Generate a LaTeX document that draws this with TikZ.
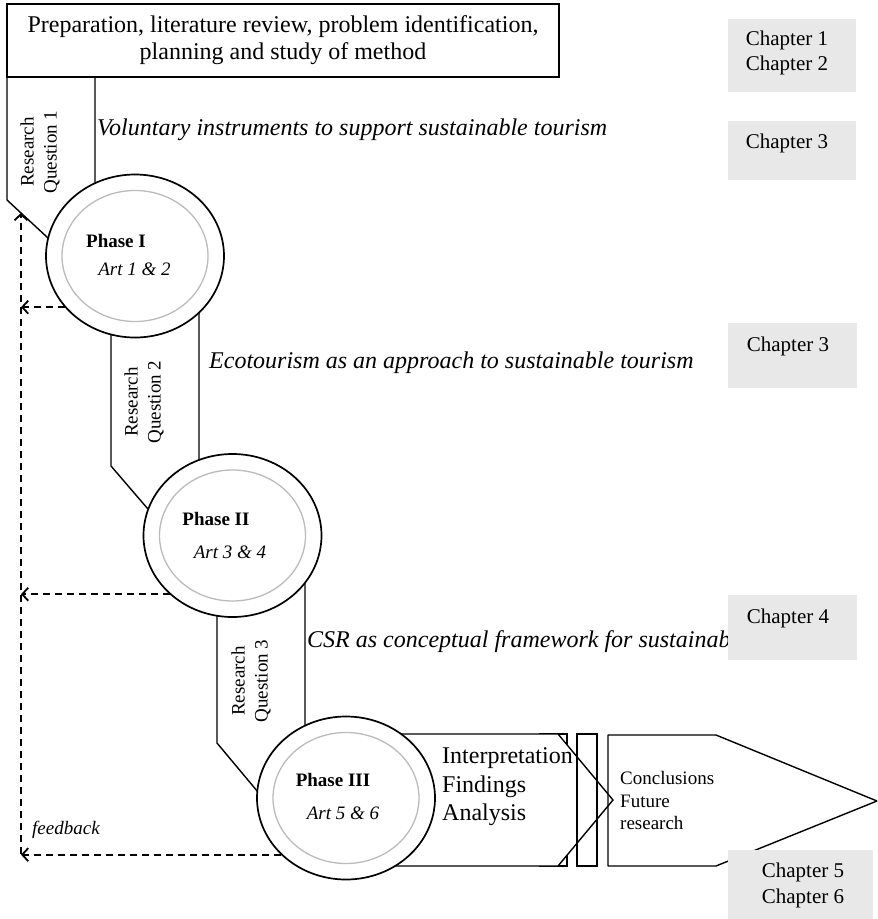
\documentclass[tikz,border=0pt]{standalone}
\usepackage{fontspec}
\setmainfont{Liberation Serif}
\usetikzlibrary{shapes.geometric,arrows.meta,calc}
\definecolor{chapgray}{HTML}{E8E8E8}
\definecolor{ringgray}{HTML}{BBBBBB}
\tikzset{
  shapeline/.style={draw=black, line width=1.4pt, line join=miter},
  topbox/.style={draw=black, line width=1.4pt, minimum width=552pt, minimum height=73pt, align=center, inner sep=0pt, font=\fontsize{24}{27}\selectfont},
  chapbox/.style={fill=chapgray, inner sep=0pt},
  chaptext/.style={align=center, inner sep=0pt, font=\fontsize{21}{25.5}\selectfont},
  heading/.style={anchor=west, inner sep=0pt, font=\fontsize{24}{28}\selectfont\itshape},
  rqtext/.style={rotate=90, align=center, inner sep=0pt, font=\fontsize{19}{23}\selectfont},
  phase/.style={ellipse, draw=black, line width=1.7pt, fill=white, minimum width=178pt, minimum height=163pt, inner sep=0pt},
  ring/.style={ellipse, draw=ringgray, line width=1.3pt, minimum width=146pt, minimum height=131pt, inner sep=0pt},
  phasetitle/.style={inner sep=0pt, font=\fontsize{19}{22}\selectfont\bfseries},
  arttext/.style={inner sep=0pt, font=\fontsize{19}{22}\selectfont\itshape},
  fb/.style={line width=2.1pt, dash pattern=on 7pt off 5pt, -{Straight Barb[length=6pt,width=13pt,line width=1.8pt]}},
  bigtext/.style={anchor=west, align=left, inner sep=0pt, font=\fontsize{24}{28.5}\selectfont},
  smalltext/.style={anchor=west, align=left, inner sep=0pt, font=\fontsize{19}{22.5}\selectfont},
}
\begin{document}
\begin{tikzpicture}[x=1pt,y=-1pt]
\useasboundingbox (0,0) rectangle (878,919);

% research question bands
\draw[shapeline, fill=white] (7,77) -- (95,77) -- (95,250) -- (61,250) -- (7,200) -- cycle;
\draw[shapeline, fill=white] (111,290) -- (199,290) -- (199,530) -- (166,530) -- (111,466) -- cycle;
\draw[shapeline, fill=white] (217,575) -- (305,575) -- (305,810) -- (273,810) -- (217,743) -- cycle;

% top box
\node[topbox] (prep) at (283,40.5) {Preparation, literature review, problem identification,\\planning and study of method};

% output shapes
\fill[white] (608,735) -- (716,735) -- (877,801) -- (716,866) -- (608,866) -- cycle;
\draw[shapeline, fill=white] (540,734) rectangle (567,866);
\draw[shapeline, fill=white] (346,734) -- (558,734) -- (613,800) -- (558,866) -- (346,866) -- cycle;
\draw[shapeline] (577,734) rectangle (597,866);
\draw[shapeline, line join=bevel] (608,735) -- (716,735) -- (877,801) -- (716,866) -- (608,866) -- cycle;

% phases
\node[phase] (p1) at (135,256) {};
\node[ring] (r1) at (p1) {};
\node[phase] (p2) at (232.5,535.5) {};
\node[ring] (r2) at (p2) {};
\node[phase] (p3) at (346,798) {};
\node[ring] (r3) at (p3) {};

\node[phasetitle] (t1) at (116,241) {Phase I};
\node[arttext] (a1) at (134.5,269) {Art 1 \& 2};
\node[phasetitle] (t2) at (216,519) {Phase II};
\node[arttext] (a2) at (230,552) {Art 3 \& 4};
\node[phasetitle] (t3) at (333,780) {Phase III};
\node[arttext] (a3) at (343,813) {Art 5 \& 6};

% research question labels
\node[rqtext] (rq1) at (40,152) {Research\\Question 1};
\node[rqtext] (rq2) at (144,402) {Research\\Question 2};
\node[rqtext] (rq3) at (251,681) {Research\\Question 3};

% headings
\node[heading] (h1) at (97,130) {Voluntary instruments to support sustainable tourism};
\node[heading] (h2) at (209,363) {Ecotourism as an approach to sustainable tourism};
\node[heading] (h3) at (307,642) {CSR as conceptual framework for sustainab};

% output texts
\node[bigtext] (interp) at (442,787) {Interpretation\\Findings\\Analysis};
\node[smalltext] (concl) at (620,800.5) {Conclusions\\Future\\research};

% feedback
\coordinate (fbtop) at (21,213);
\coordinate (fbbot) at (21,854);
\draw[fb] (fbbot) -- (fbtop);
\draw[fb] (p1.216) -- (p1.216 -| fbtop);
\draw[fb] (p2.223) -- (p2.223 -| fbtop);
\draw[fb] (p3.221) -- (p3.221 -| fbbot);
\node[anchor=west, inner sep=0pt, font=\fontsize{19}{22}\selectfont\itshape] (fbl) at (32,830) {feedback};

% chapter boxes
\node[chapbox, minimum width=128pt, minimum height=73pt] (c1) at (792,55.5) {};
\node[chaptext] (c1t) at (787,53) {Chapter 1\\Chapter 2};
\node[chapbox, minimum width=128pt, minimum height=59pt] (c2) at (792,150.5) {};
\node[chaptext] (c2t) at (787,143) {Chapter 3};
\node[chapbox, minimum width=129pt, minimum height=65pt] (c3) at (792.5,355.5) {};
\node[chaptext] (c3t) at (788,346) {Chapter 3};
\node[chapbox, minimum width=129pt, minimum height=65pt] (c4) at (792.5,627.5) {};
\node[chaptext] (c4t) at (788,618) {Chapter 4};
\node[chapbox, minimum width=145pt, minimum height=69pt] (c5) at (800.5,884.5) {};
\node[chaptext] (c5t) at (803,885.5) {Chapter 5\\Chapter 6};
\end{tikzpicture}
\end{document}
